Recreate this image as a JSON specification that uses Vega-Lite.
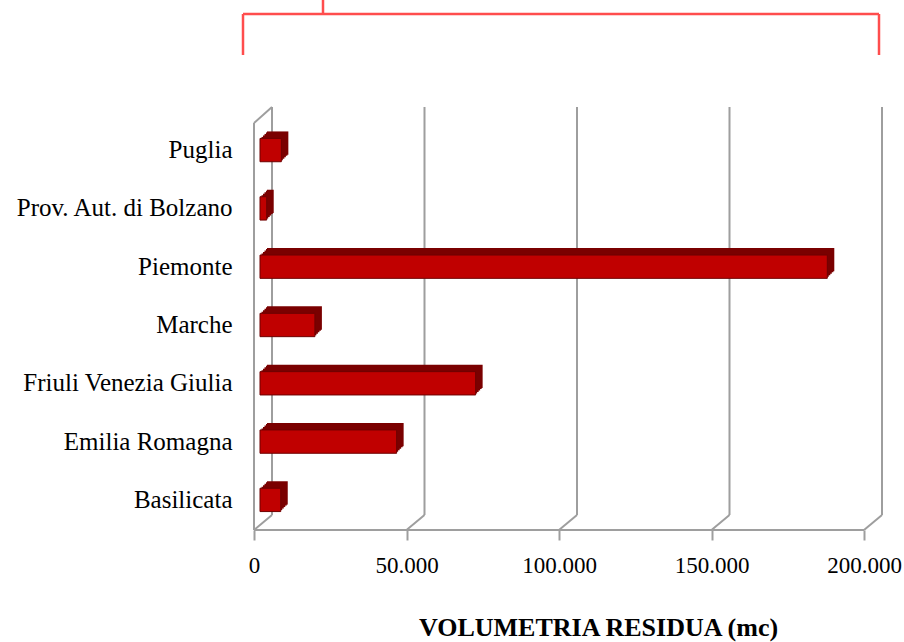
{
  "$schema": "https://vega.github.io/schema/vega-lite/v6.json",
  "width": 610,
  "height": 410,
  "autosize": {"type": "none"},
  "padding": {"left": 260, "top": 120, "right": 34, "bottom": 112},
  "background": "white",
  "config": {"view": {"stroke": null}},
  "resolve": {"axis": {"x": "independent", "y": "independent"}},
  "datasets": {
    "regions": [
      {"region": "Puglia", "vol": 7000},
      {"region": "Prov. Aut. di Bolzano", "vol": 2200},
      {"region": "Piemonte", "vol": 186000},
      {"region": "Marche", "vol": 18000},
      {"region": "Friuli Venezia Giulia", "vol": 70700},
      {"region": "Emilia Romagna", "vol": 44800},
      {"region": "Basilicata", "vol": 6800}
    ],
    "grid": [{"v": 0}, {"v": 50000}, {"v": 100000}, {"v": 150000}, {"v": 200000}],
    "one": [{"k": 1}]
  },
  "layer": [
    {
      "data": {"name": "grid"},
      "mark": {"type": "rule", "color": "#9e9e9e", "strokeWidth": 2, "xOffset": 12},
      "encoding": {
        "x": {"field": "v", "type": "quantitative", "axis": null},
        "y": {"value": -13},
        "y2": {"value": {"expr": "height - 15"}}
      }
    },
    {
      "data": {"name": "grid"},
      "mark": {"type": "rule", "color": "#9e9e9e", "strokeWidth": 2, "xOffset": -6, "x2Offset": 12},
      "encoding": {
        "x": {"field": "v", "type": "quantitative", "axis": null},
        "x2": {"field": "v"},
        "y": {"value": {"expr": "height"}},
        "y2": {"value": {"expr": "height - 15"}}
      }
    },
    {
      "data": {"name": "one"},
      "mark": {"type": "rule", "color": "#9e9e9e", "strokeWidth": 2, "xOffset": -6, "x2Offset": -6},
      "encoding": {
        "x": {"datum": 0, "type": "quantitative", "axis": null},
        "x2": {"datum": 200000},
        "y": {"value": {"expr": "height"}}
      }
    },
    {
      "data": {"name": "one"},
      "mark": {"type": "rule", "color": "#9e9e9e", "strokeWidth": 2, "xOffset": -6},
      "encoding": {
        "x": {"datum": 0, "type": "quantitative", "axis": null},
        "y": {"value": 3},
        "y2": {"value": {"expr": "height"}}
      }
    },
    {
      "data": {"name": "one"},
      "mark": {"type": "rule", "color": "#9e9e9e", "strokeWidth": 2, "xOffset": -6, "x2Offset": 12},
      "encoding": {
        "x": {"datum": 0, "type": "quantitative", "axis": null},
        "x2": {"datum": 0},
        "y": {"value": 3},
        "y2": {"value": -13}
      }
    },
    {
      "data": {"name": "regions"},
      "encoding": {
        "y": {
          "field": "region", "type": "nominal", "sort": null,
          "scale": {"paddingInner": 0.6, "paddingOuter": 0.316},
          "axis": {
            "title": null, "ticks": false, "domain": false, "labelPadding": 28,
            "labelFont": "Liberation Serif", "labelFontSize": 25, "labelColor": "#000000", "labelLimit": 400
          }
        },
        "x": {
          "field": "vol", "type": "quantitative",
          "scale": {"domain": [0, 200000], "nice": false},
          "axis": {
            "title": "VOLUMETRIA RESIDUA (mc)",
            "values": [0, 50000, 100000, 150000, 200000],
            "labelExpr": "replace(format(datum.value, ','), ',', '.')",
            "grid": false, "domain": false,
            "ticks": true, "tickOffset": -6, "tickSize": 10, "tickWidth": 2, "tickColor": "#9e9e9e",
            "labelPadding": 14, "labelFont": "Liberation Serif",
            "labelFontSize": 23, "labelColor": "#000000", "labelFlush": false,
            "titleFont": "Liberation Serif", "titleFontWeight": "bold", "titleFontSize": 26, "titleColor": "#000000",
            "titleX": 338, "titleY": 105, "titleBaseline": "alphabetic"
          }
        }
      },
      "layer": [
        {"mark": {"type": "bar", "color": "#7a0000", "xOffset": 1.5, "x2Offset": 1.5, "yOffset": -1.5, "y2Offset": -1.5}},
        {"mark": {"type": "bar", "color": "#7a0000", "xOffset": 3, "x2Offset": 3, "yOffset": -3, "y2Offset": -3}},
        {"mark": {"type": "bar", "color": "#7a0000", "xOffset": 4.5, "x2Offset": 4.5, "yOffset": -4.5, "y2Offset": -4.5}},
        {"mark": {"type": "bar", "color": "#7a0000", "xOffset": 6, "x2Offset": 6, "yOffset": -6, "y2Offset": -6}},
        {"mark": {"type": "bar", "color": "#7a0000", "xOffset": 7, "x2Offset": 7, "yOffset": -7, "y2Offset": -7}},
        {"mark": {"type": "bar", "fill": "#c00000", "stroke": "#6e0000", "strokeWidth": 1}}
      ]
    },
    {
      "data": {"name": "one"},
      "mark": {"type": "rule", "color": "#ff4d4d", "strokeWidth": 2.5},
      "encoding": {"x": {"value": -17}, "x2": {"value": 619}, "y": {"value": -106}}
    },
    {
      "data": {"name": "one"},
      "mark": {"type": "rule", "color": "#ff4d4d", "strokeWidth": 2.5},
      "encoding": {"x": {"value": -17}, "y": {"value": -106}, "y2": {"value": -65}}
    },
    {
      "data": {"name": "one"},
      "mark": {"type": "rule", "color": "#ff4d4d", "strokeWidth": 2.5},
      "encoding": {"x": {"value": 619}, "y": {"value": -106}, "y2": {"value": -65}}
    },
    {
      "data": {"name": "one"},
      "mark": {"type": "rule", "color": "#ff4d4d", "strokeWidth": 2.5},
      "encoding": {"x": {"value": 63}, "y": {"value": -120}, "y2": {"value": -106}}
    }
  ]
}
